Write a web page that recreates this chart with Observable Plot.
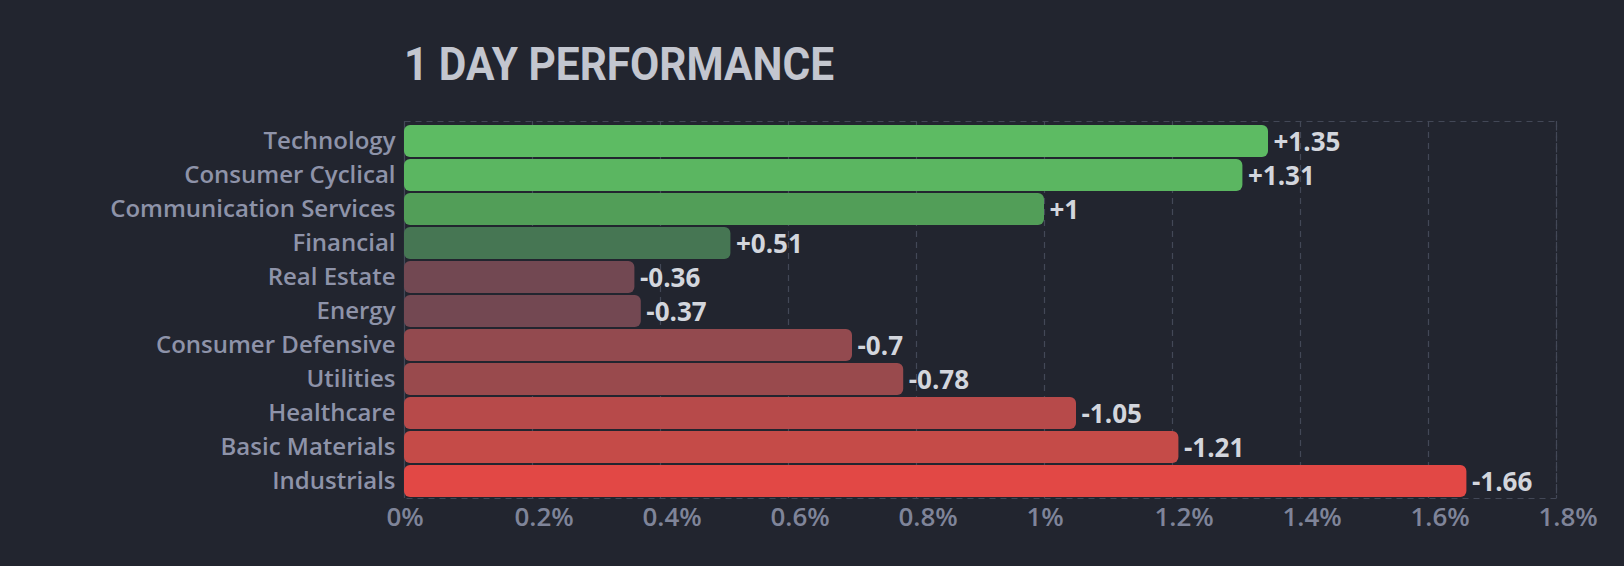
<!DOCTYPE html>
<html>
<head>
<meta charset="utf-8">
<script src="https://cdn.jsdelivr.net/npm/d3@7"></script>
<script src="https://cdn.jsdelivr.net/npm/@observablehq/plot@0.6"></script>
<style>
  html, body { margin: 0; padding: 0; background: #22252f; }
  #wrap { position: relative; width: 1624px; height: 566px; overflow: hidden; }
  #title { position: absolute; left: 404px; top: 41px; margin: 0; font-family: Roboto, sans-serif; font-weight: 700;
    font-size: 46px; line-height: 46px; color: #c3c6cf; transform-origin: 0 0; white-space: nowrap; }
  #chart { position: absolute; left: 0; top: 0; }
</style>
</head>
<body>
<div id="wrap">
  <div id="chart"></div>
  <h1 id="title">1 DAY PERFORMANCE</h1>
</div>
<script>
const sectors = ["Technology", "Consumer Cyclical", "Communication Services", "Financial", "Real Estate", "Energy", "Consumer Defensive", "Utilities", "Healthcare", "Basic Materials", "Industrials"];
const changes = [1.35, 1.31, 1.00, 0.51, -0.36, -0.37, -0.70, -0.78, -1.05, -1.21, -1.66];
const barColors = ["#5dbb63", "#5bb661", "#529e58", "#467653", "#724852", "#734852", "#934a4f", "#994a4d", "#b74a4a", "#c54b48", "#e24845"];
const xTicks = [0, 0.2, 0.4, 0.6, 0.8, 1.0, 1.2, 1.4, 1.6, 1.8];
const xTickLabels = ["0%", "0.2%", "0.4%", "0.6%", "0.8%", "1%", "1.2%", "1.4%", "1.6%", "1.8%"];

const rows = sectors.map((s, i) => ({
  sector: s,
  abs: Math.abs(changes[i]),
  color: barColors[i],
  label: (changes[i] > 0 ? "+" : "") + String(changes[i])
}));

const chart = Plot.plot({
  width: 1624,
  height: 566,
  marginTop: 121,
  marginBottom: 68,
  marginLeft: 404,
  marginRight: 68,
  style: { background: "transparent", fontFamily: "'Open Sans', sans-serif" },
  x: { domain: [0, 1.8], label: null },
  y: { domain: sectors, range: [124, 498], paddingInner: 0.068, paddingOuter: 0, label: null },
  marks: [
    Plot.gridX(xTicks, { stroke: "#434857", strokeOpacity: 1, strokeDasharray: "6,5", strokeWidth: 1.2 }),
    Plot.frame({ stroke: "#434857", strokeDasharray: "6,5", strokeWidth: 1.2 }),
    Plot.barX(rows, { x: "abs", y: "sector", fill: "color", rx: 6 }),
    Plot.text(rows, { x: "abs", y: "sector", text: "label", textAnchor: "start", dx: 5, dy: 1,
      fill: "#d3d6dd", fontSize: 26, fontWeight: 700 }),
    Plot.axisY({ tickSize: 0, tickPadding: 9, fontSize: 24, fontWeight: 600, color: "#8e93a9", label: null }),
    Plot.axisX({ ticks: xTicks, tickFormat: d => xTickLabels[xTicks.indexOf(d)], tickSize: 0, tickPadding: 9,
      textAnchor: "start", dx: -18, fontSize: 26, fontWeight: 600, color: "#7f8499", label: null })
  ]
});
document.getElementById("chart").appendChild(chart);

// fit the bold title to its condensed width
const t = document.getElementById("title");
const w = t.getBoundingClientRect().width;
t.style.transform = `scaleX(${430 / w})`;
</script>
</body>
</html>
